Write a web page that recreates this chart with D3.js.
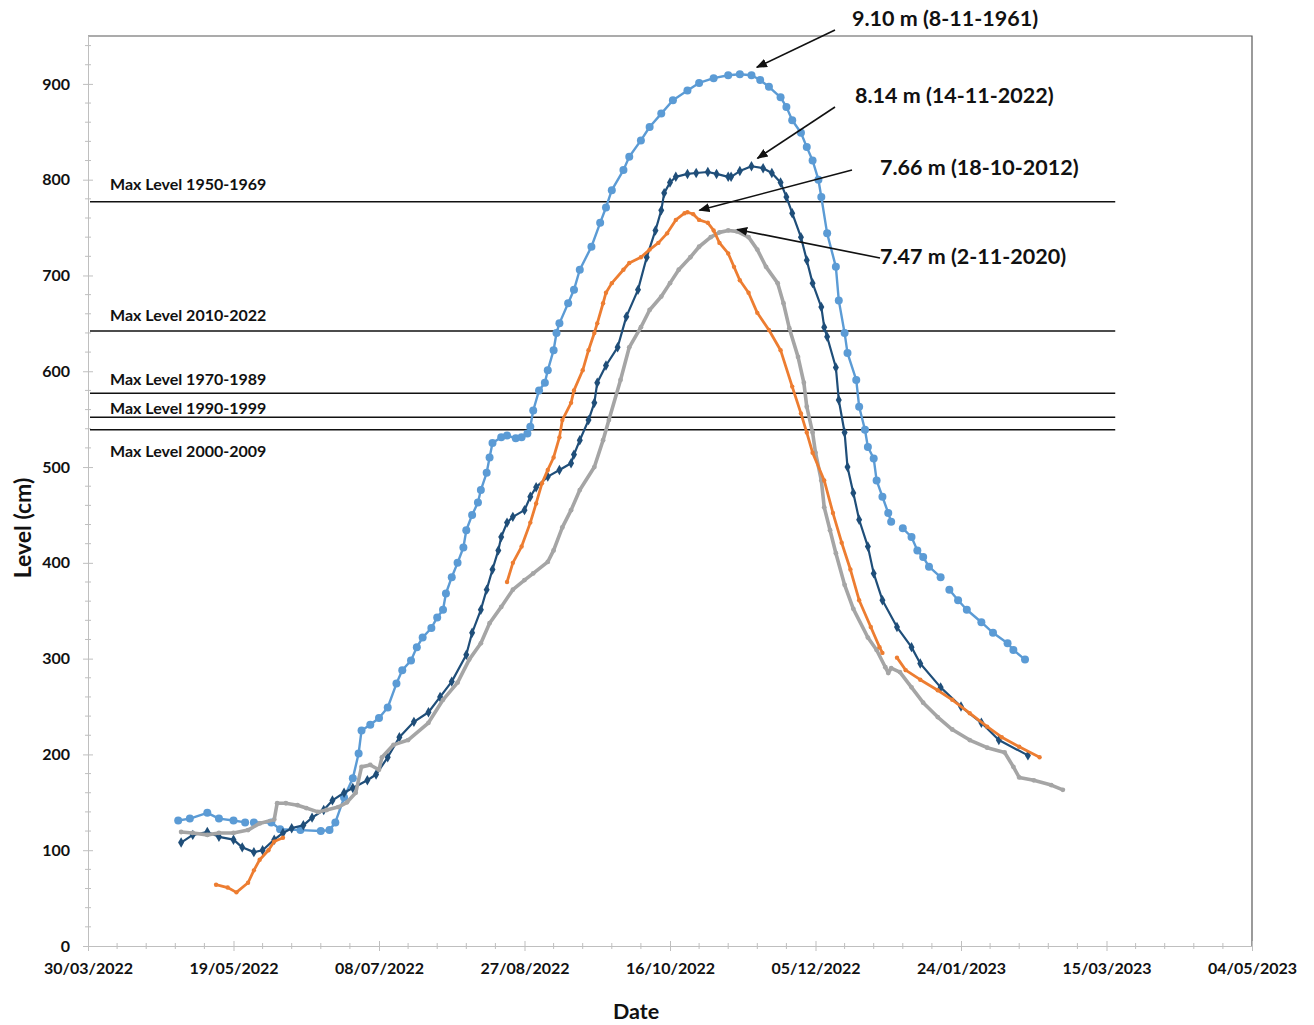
<!DOCTYPE html>
<html>
<head>
<meta charset="utf-8">
<title>River level</title>
<script src="https://d3js.org/d3.v7.min.js"></script>
<style>
  body { margin: 0; background: #fff; overflow: hidden; }
  svg { display: block; font-family: Lato, "Open Sans", sans-serif; font-weight: bold; }
</style>
</head>
<body>
<div id="chart"></div>
<script>
// tick labels
const dateTicks = ["30/03/2022", "19/05/2022", "08/07/2022", "27/08/2022", "16/10/2022",
                   "05/12/2022", "24/01/2023", "15/03/2023", "04/05/2023"];
const levelTicks = [0, 100, 200, 300, 400, 500, 600, 700, 800, 900];

// days after 30/03/2022 and level (cm); null = missing reading
const days1961 = [31,35,41,45,50,54,55,57,63,66,73,80,83,85,88,91,93,94,97,100,103,106,108,111,113,115,118,120,122,123,125,127,129,130,132,134,135,137,138,139,142,144,147,149,151,152,153,155,157,158,160,161,162,165,167,169,173,176,178,180,184,186,190,193,197,201,206,210,215,220,224,228,231,234,238,240,242,245,247,249,251,252,254,257,258,260,261,264,265,267,268,270,271,273,275,276,278,280,283,285,287,289,293,294,296,299,302,307,311,316,318,322];
const level1961 = [131,133,139,133,131,129,null,129,129,122,121,120,121,129,155,175,201,225,231,238,249,274,288,298,312,322,332,343,351,368,385,400,416,434,450,463,476,494,510,525,531,533,530,531,535,542,559,580,588,601,622,640,650,671,685,706,730,755,771,789,810,824,841,855,869,883,893,901,906,909,910,909,904,897,886,876,862,849,834,820,800,782,744,709,674,640,619,591,563,539,521,509,486,469,452,443,null,436,427,413,406,396,385,null,372,361,351,338,327,316,309,299];

const days2022 = [32,36,41,45,50,53,57,60,64,67,70,74,77,81,84,88,91,96,99,103,107,112,117,121,125,130,132,135,137,139,141,142,144,146,150,152,154,158,162,166,167,169,172,174,175,178,182,185,189,192,195,197,198,200,202,206,209,213,216,220,221,224,228,232,235,238,240,242,245,247,249,252,253,254,257,258,260,261,263,265,268,270,273,278,283,286,293,300,307,313,323];
const level2022 = [108,116,119,114,111,103,98,100,111,118,123,126,134,142,152,160,165,173,179,197,218,234,244,260,276,304,327,351,372,393,413,427,442,448,455,469,479,490,497,504,513,528,549,567,588,606,625,657,685,719,747,768,786,797,803,806,807,808,806,803,803,809,814,812,807,797,782,765,740,716,692,667,646,636,604,570,536,500,473,445,417,389,361,333,312,295,270,250,233,215,199];

const days2012 = [44,48,51,55,57,59,62,64,67,100,144,146,149,152,154,156,158,160,162,163,166,167,170,172,174,175,177,178,180,184,186,190,193,196,199,202,205,206,208,210,213,215,217,220,222,224,227,230,234,238,242,245,247,249,253,256,259,262,265,269,272,273,275,278,281,286,292,297,303,309,314,320,327];
const level2012 = [64,61,56,66,79,90,100,109,113,null,380,400,417,442,462,483,497,510,531,549,567,580,601,622,640,650,671,682,692,706,713,719,727,734,744,758,765,766,764,758,755,747,734,723,709,695,682,661,643,622,584,556,536,515,486,452,421,393,361,333,312,306,null,301,288,278,267,257,243,229,218,208,197];

const days2020 = [32,36,41,45,50,55,59,64,65,68,72,75,79,82,86,89,92,94,97,100,101,105,110,117,122,127,131,135,138,142,146,150,153,158,160,163,166,169,174,177,179,183,186,190,193,197,200,203,207,210,214,217,220,223,227,230,233,237,239,241,244,246,247,249,250,252,253,255,257,260,263,268,271,274,275,276,279,283,287,292,297,303,309,315,318,320,325,331,335];
const level2020 = [119,118,116,118,118,121,128,132,149,149,147,144,140,142,145,150,160,187,189,184,197,210,215,233,257,275,299,316,337,354,372,382,389,401,413,437,455,476,500,528,549,591,625,646,664,678,692,706,719,730,740,745,747,746,740,727,709,692,671,645,615,588,563,536,515,486,458,434,410,377,352,322,309,291,285,290,286,270,254,239,226,215,207,202,187,176,173,168,163];

// historic maxima (horizontal lines)
const maxLevels = [777, 642, 577, 552, 539];
const maxLabels = ["Max Level 1950-1969", "Max Level 2010-2022", "Max Level 1970-1989",
                   "Max Level 1990-1999", "Max Level 2000-2009"];
const maxLineEnd = "18/03/2023";

const peakLabels = ["9.10 m (8-11-1961)", "8.14 m (14-11-2022)", "7.66 m (18-10-2012)", "7.47 m (2-11-2020)"];

// ---------------------------------------------------------------
const W = 1314, H = 1025;
const plotL = 88, plotR = 1252, plotT = 36, plotB = 946;
const axisGray = "#bfbfbf";

const parse = d3.timeParse("%d/%m/%Y");
const start = parse(dateTicks[0]);
const toDate = d => d3.timeDay.offset(start, d);

const x = d3.scaleTime()
  .domain([start, parse(dateTicks[dateTicks.length - 1])])
  .range([plotL, plotR]);
const y = d3.scaleLinear().domain([0, 950]).range([plotB, plotT]);

const svg = d3.select("#chart").append("svg")
  .attr("width", W).attr("height", H);

// frame (top + right)
svg.append("path")
  .attr("d", `M${plotL},${plotT}H${plotR}V${plotB}`)
  .attr("fill", "none").attr("stroke", "#595959").attr("stroke-width", 1.2);

// minor ticks
const yMinor = d3.range(0, 951, 20).filter(v => v % 100 !== 0);
svg.append("g").selectAll("line").data(yMinor).join("line")
  .attr("x1", plotL - 3).attr("x2", plotL + 3)
  .attr("y1", d => y(d)).attr("y2", d => y(d))
  .attr("stroke", axisGray);
const xMinor = d3.range(0, 401, 10).filter(v => v % 50 !== 0).map(toDate);
svg.append("g").selectAll("line").data(xMinor).join("line")
  .attr("x1", d => x(d)).attr("x2", d => x(d))
  .attr("y1", plotB - 3).attr("y2", plotB + 3)
  .attr("stroke", axisGray);

// y axis
const yAxis = svg.append("g").attr("transform", `translate(${plotL},0)`)
  .call(d3.axisLeft(y).tickValues(levelTicks).tickSize(0).tickPadding(18));
yAxis.select(".domain").attr("stroke", axisGray);
yAxis.selectAll(".tick line").attr("x1", -5).attr("x2", 5).attr("stroke", axisGray);
yAxis.selectAll("text").attr("font-size", 16).attr("fill", "#111")
  .attr("font-family", "Lato, sans-serif").attr("font-weight", "bold");

// x axis
const xAxis = svg.append("g").attr("transform", `translate(0,${plotB})`)
  .call(d3.axisBottom(x).tickValues(dateTicks.map(parse))
    .tickFormat(d3.timeFormat("%d/%m/%Y")).tickSize(0).tickPadding(17));
xAxis.select(".domain").attr("stroke", axisGray);
xAxis.selectAll(".tick line").attr("y1", -5).attr("y2", 5).attr("stroke", axisGray);
xAxis.selectAll("text").attr("font-size", 16).attr("fill", "#111")
  .attr("font-family", "Lato, sans-serif").attr("font-weight", "bold");

// axis titles
svg.append("text").text("Level (cm)")
  .attr("transform", "translate(22,528) rotate(-90)")
  .attr("text-anchor", "middle").attr("dominant-baseline", "central")
  .attr("font-size", 23).attr("fill", "#111");
svg.append("text").text("Date")
  .attr("x", 636).attr("y", 1011)
  .attr("text-anchor", "middle").attr("dominant-baseline", "central")
  .attr("font-size", 21.5).attr("fill", "#111");

// historic max lines
const labelShift = [-18, -17, -15, -10, 21];
maxLevels.forEach((v, i) => {
  svg.append("line")
    .attr("x1", x(start) + 2).attr("x2", x(parse(maxLineEnd)))
    .attr("y1", y(v)).attr("y2", y(v))
    .attr("stroke", "#111").attr("stroke-width", 1.6);
  svg.append("text").text(maxLabels[i])
    .attr("x", 110).attr("y", y(v) + labelShift[i])
    .attr("dominant-baseline", "central")
    .attr("font-size", 16).attr("fill", "#111");
});

// series
const series = [
  { days: days1961, level: level1961, color: "#5b9bd5", width: 2.4, marker: "circle", r: 4 },
  { days: days2022, level: level2022, color: "#1f4e79", width: 2.2, marker: "diamond", r: 2.8 },
  { days: days2020, level: level2020, color: "#a5a5a5", width: 3.6, marker: "circle", r: 2.4 },
  { days: days2012, level: level2012, color: "#ed7d31", width: 2.8, marker: "circle", r: 2.2 }
];

const line = d3.line()
  .defined(d => d.v != null)
  .x(d => x(d.t)).y(d => y(d.v));

series.forEach(s => {
  const pts = s.days.map((d, i) => ({ t: toDate(d), v: s.level[i] }));
  const g = svg.append("g");
  g.append("path").datum(pts)
    .attr("d", line).attr("fill", "none")
    .attr("stroke", s.color).attr("stroke-width", s.width)
    .attr("stroke-linejoin", "round");
  const ok = pts.filter(p => p.v != null);
  if (s.marker === "circle") {
    g.selectAll("circle").data(ok).join("circle")
      .attr("cx", p => x(p.t)).attr("cy", p => y(p.v))
      .attr("r", s.r).attr("fill", s.color);
  } else {
    const sym = d3.symbol().type(d3.symbolDiamond).size(s.r * s.r * 4);
    g.selectAll("path.m").data(ok).join("path").attr("class", "m")
      .attr("d", sym)
      .attr("transform", p => `translate(${x(p.t)},${y(p.v)})`)
      .attr("fill", s.color);
  }
});

// peak annotations: arrow from text to each series' maximum
svg.append("defs").append("marker")
  .attr("id", "arrow").attr("viewBox", "0 0 10 10")
  .attr("refX", 9).attr("refY", 5)
  .attr("markerWidth", 7).attr("markerHeight", 7)
  .attr("orient", "auto-start-reverse")
  .append("path").attr("d", "M0,1L10,5L0,9Z").attr("fill", "#111");

const peakOrder = [series[0], series[1], series[3], series[2]];
const annLayout = [
  { tip: [17, -7], tail: [835, 30],  text: [852, 18] },
  { tip: [6, -8],  tail: [835, 107], text: [855, 95] },
  { tip: [12, -2], tail: [852, 170], text: [880, 167] },
  { tip: [9, -1],  tail: [880, 258], text: [880, 256] }
];
peakOrder.forEach((s, i) => {
  const vals = s.level.map(v => v == null ? -1 : v);
  const k = d3.maxIndex(vals);
  const a = annLayout[i];
  const tx = x(toDate(s.days[k])) + a.tip[0], ty = y(s.level[k]) + a.tip[1];
  svg.append("line")
    .attr("x1", a.tail[0]).attr("y1", a.tail[1])
    .attr("x2", tx).attr("y2", ty)
    .attr("stroke", "#111").attr("stroke-width", 1.6)
    .attr("marker-end", "url(#arrow)");
  svg.append("text").text(peakLabels[i])
    .attr("x", a.text[0]).attr("y", a.text[1])
    .attr("dominant-baseline", "central")
    .attr("font-size", 21.5).attr("fill", "#111");
});
</script>
</body>
</html>
